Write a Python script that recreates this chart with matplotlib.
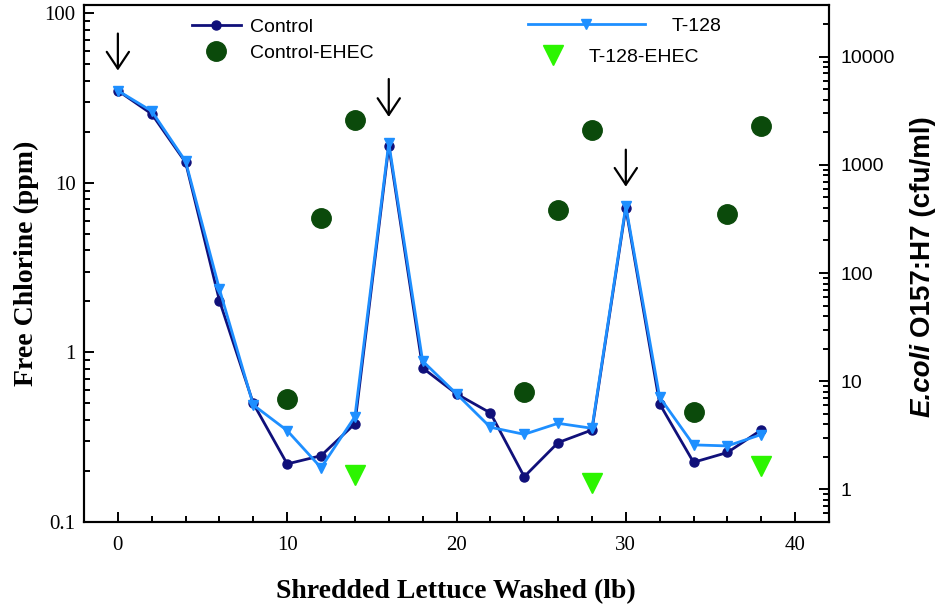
import matplotlib
matplotlib.use("Agg")
import matplotlib.pyplot as plt
from matplotlib.lines import Line2D
from matplotlib.ticker import FixedLocator, FuncFormatter, LogLocator, MultipleLocator, NullFormatter

# data
lettuce = [0, 2, 4, 6, 8, 10, 12, 14, 16, 18, 20, 22, 24, 26, 28, 30, 32, 34, 36, 38]
chlorine_control = [35, 25.5, 13.2, 2.02, 0.50, 0.22, 0.246, 0.38, 16.5, 0.81, 0.57, 0.44,
                    0.185, 0.294, 0.349, 7.1, 0.497, 0.225, 0.257, 0.349]
chlorine_t128 = [35, 26.5, 13.4, 2.36, 0.49, 0.346, 0.209, 0.418, 17.2, 0.89, 0.57, 0.362,
                 0.329, 0.382, 0.357, 7.3, 0.544, 0.285, 0.281, 0.328]

ehec_x_control = [10, 12, 14, 24, 26, 28, 34, 36, 38]
ehec_control = [6.9, 320, 2570, 7.9, 380, 2110, 5.2, 353, 2280]
ehec_x_t128 = [14, 28, 38]
ehec_t128 = [1.35, 1.14, 1.63]

# chlorine re-dosing arrows: x, tail value, tip value (left axis)
arrows = [(0, 76, 46), (16, 41, 24.5), (30, 15.7, 9.5)]

serif = "Liberation Serif"
sans = "Liberation Sans"

fig = plt.figure(figsize=(9.42, 6.09), dpi=100)
ax = fig.add_axes([84 / 942, 1 - 522 / 609, 745 / 942, 517 / 609])
ax2 = ax.twinx()

c_ctrl = "#10107a"
c_t128 = "#1e8fff"
c_ehec = "#0b4a0b"
c_ehec_t = "#2cf500"

ax.plot(lettuce, chlorine_control, color=c_ctrl, lw=2.0, marker="o", ms=6.5, zorder=3)
ax.plot(lettuce, chlorine_t128, color=c_t128, lw=2.0, marker="v", ms=7, zorder=4)

ax2.plot(ehec_x_control, ehec_control, ls="none", marker="o", ms=14, color=c_ehec)
ax2.plot(ehec_x_t128, ehec_t128, ls="none", marker="v", ms=14, color=c_ehec_t)

for x, y0, y1 in arrows:
    ax.annotate("", xy=(x, y1), xytext=(x, y0),
                arrowprops=dict(arrowstyle="->,head_length=0.3,head_width=0.2",
                                color="black", lw=1.6, mutation_scale=40,
                                shrinkA=0, shrinkB=0))

ax.set_xlim(-2, 42)
ax.set_yscale("log")
ax.set_ylim(0.1, 112)
ax2.set_yscale("log")
ax2.set_ylim(0.5, 30000)

ax.xaxis.set_major_locator(MultipleLocator(10))
ax.xaxis.set_minor_locator(FixedLocator([2, 4, 6, 8, 12, 14, 16, 18, 22, 24, 26, 28, 32, 34, 36, 38]))
ax.yaxis.set_major_locator(FixedLocator([0.1, 1, 10, 100]))
ax.yaxis.set_major_formatter(FuncFormatter(lambda v, p: f"{v:g}"))
ax.yaxis.set_minor_locator(LogLocator(base=10, subs=range(2, 10)))
ax.yaxis.set_minor_formatter(NullFormatter())
ax2.yaxis.set_major_locator(FixedLocator([1, 10, 100, 1000, 10000]))
ax2.yaxis.set_major_formatter(FuncFormatter(lambda v, p: f"{v:g}"))
ax2.yaxis.set_minor_locator(LogLocator(base=10, subs=range(2, 10)))
ax2.yaxis.set_minor_formatter(NullFormatter())

ax.tick_params(axis="x", which="both", direction="in", top=False, width=1.4, pad=10)
ax.tick_params(axis="x", which="major", length=7)
ax.tick_params(axis="x", which="minor", length=4)
ax.tick_params(axis="y", which="both", direction="in", right=False, width=1.4, pad=6)
ax.tick_params(axis="y", which="major", length=7)
ax.tick_params(axis="y", which="minor", length=4)
ax2.tick_params(axis="y", which="both", direction="in", width=1.4, pad=8.5)
ax2.tick_params(axis="y", which="major", length=7)
ax2.tick_params(axis="y", which="minor", length=4)

for lab in ax.get_xticklabels() + ax.get_yticklabels():
    lab.set_fontfamily(serif)
    lab.set_fontsize(15)
for lab in ax2.get_yticklabels():
    lab.set_fontfamily(sans)
    lab.set_fontsize(14)

for a in (ax, ax2):
    for s in a.spines.values():
        s.set_linewidth(1.5)

fig.text(456 / 942, 1 - 592 / 609, "Shredded Lettuce Washed (lb)", family=serif,
         fontweight="bold", fontsize=20, ha="center", va="center")
fig.text(26 / 942, 1 - 263 / 609, "Free Chlorine (ppm)", family=serif,
         fontweight="bold", fontsize=20, ha="center", va="center", rotation=90)

# right label: italic "E.coli" followed by the upright rest, both bold
r_ital = fig.text(923 / 942, 1 - 417 / 609, "E.coli", family=sans, style="italic",
                  fontweight="bold", fontsize=20, ha="center", va="bottom", rotation=90)
fig.canvas.draw()
bb = r_ital.get_window_extent()
fig.text(923 / 942, (bb.y1 + 6) / 609, "O157:H7 (cfu/ml)", family=sans,
         fontweight="bold", fontsize=20, ha="center", va="bottom", rotation=90)

# legend pieces, placed like the original
h_ctrl = Line2D([], [], color=c_ctrl, lw=2.0, marker="o", ms=6.5)
h_ehec = Line2D([], [], ls="none", marker="o", ms=14, color=c_ehec)
h_t128 = Line2D([], [], color=c_t128, lw=2.0, marker="v", ms=7)
h_ehec_t = Line2D([], [], ls="none", marker="v", ms=14, color=c_ehec_t)
leg_kw = dict(frameon=False, borderpad=0, borderaxespad=0, bbox_transform=fig.transFigure,
              prop={"family": sans, "size": 14}, loc="center left")

leg1 = ax2.legend([h_ctrl, h_ehec], ["Control", "Control-EHEC"], handlelength=2.5,
                  handletextpad=0.5, labelspacing=0.45,
                  bbox_to_anchor=(192 / 942, 1 - 40 / 609), **leg_kw)
ax2.add_artist(leg1)
leg2 = ax2.legend([h_t128], ["T-128"], handlelength=6.0, handletextpad=1.4,
                  bbox_to_anchor=(528 / 942, 1 - 26 / 609), **leg_kw)
ax2.add_artist(leg2)
ax2.legend([h_ehec_t], ["T-128-EHEC"], handlelength=2.5, handletextpad=0.55,
           bbox_to_anchor=(529 / 942, 1 - 57 / 609), **leg_kw)

fig.savefig("out.png", dpi=100, facecolor="white")
